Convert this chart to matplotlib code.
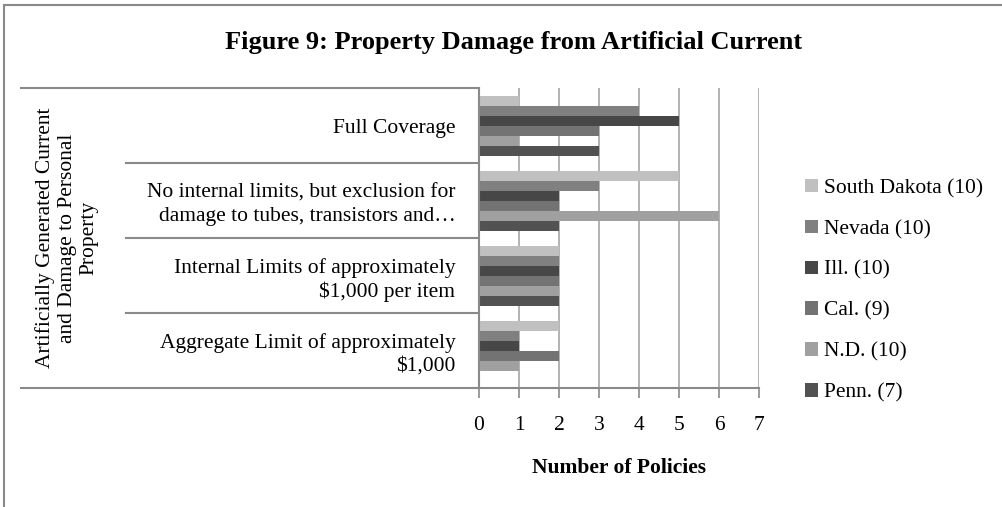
import matplotlib
matplotlib.use('Agg')
import matplotlib.pyplot as plt
from matplotlib.lines import Line2D
import numpy as np

# Categories listed bottom to top (as drawn on the y axis)
CATEGORIES = [
    'Aggregate Limit of approximately\n$1,000',
    'Internal Limits of approximately\n$1,000 per item',
    'No internal limits, but exclusion for\ndamage to tubes, transistors and\u2026',
    'Full Coverage',
]
GROUP_LABEL = 'Artificially Generated Current\nand Damage to Personal\nProperty'

SERIES = ['South Dakota (10)', 'Nevada (10)', 'Ill. (10)', 'Cal. (9)', 'N.D. (10)', 'Penn. (7)']
COLORS = ['#c0c0c0', '#808080', '#474747', '#737373', '#a0a0a0', '#525252']

south_dakota = [2, 2, 5, 1]
nevada = [1, 2, 3, 4]
illinois = [1, 2, 2, 5]
california = [2, 2, 2, 3]
north_dakota = [1, 2, 6, 1]
pennsylvania = [0, 2, 2, 3]
VALUES = [south_dakota, nevada, illinois, california, north_dakota, pennsylvania]

plt.rcParams['font.family'] = ['Liberation Serif', 'DejaVu Serif']
GRAY = '#8a8a8a'
FS = 15.5

fig = plt.figure(figsize=(10.03, 5.07), dpi=100)
ax = fig.add_axes([479 / 1003, 1 - 388 / 507, 280 / 1003, 300 / 507])

y = np.arange(len(CATEGORIES))
h = 0.8 / len(SERIES)
for i, (name, vals, col) in enumerate(zip(SERIES, VALUES, COLORS)):
    offs = 0.4 - h / 2 - i * h
    ax.barh(y + offs, vals, height=h, color=col, label=name, zorder=2)

ax.set_xlim(0, 7)
ax.set_ylim(-0.5, 3.5)
ax.set_xticks(range(8))
ax.set_yticks(y)
ax.set_yticklabels(CATEGORIES, ha='right', fontsize=FS, linespacing=1.25)
ax.grid(axis='x', color='#a6a6a6', linewidth=1.2, zorder=0)
ax.set_axisbelow(True)
ax.tick_params(axis='y', length=0, pad=17)
ax.tick_params(axis='x', length=7, width=1.2, color=GRAY, pad=13, labelsize=FS)
for s in ['top', 'right']:
    ax.spines[s].set_visible(False)
ax.spines['bottom'].set_color(GRAY)
ax.spines['bottom'].set_linewidth(1.5)
ax.spines['left'].set_color(GRAY)
ax.spines['left'].set_linewidth(1.5)

ax.set_xlabel('Number of Policies', fontsize=FS, fontweight='bold', labelpad=17)

# multi-level category separators
tr = ax.get_yaxis_transform()
for yy in [0.5, 1.5, 2.5]:
    ax.plot([(126 - 479) / 280, 0], [yy, yy], transform=tr, color=GRAY, lw=1.5, clip_on=False)
for yy in [-0.5, 3.5]:
    ax.plot([(21 - 479) / 280, 0], [yy, yy], transform=tr, color=GRAY, lw=1.5, clip_on=False)
ax.text((67 - 479) / 280, 1.5, GROUP_LABEL, transform=tr, rotation=90,
        ha='center', va='center', fontsize=FS, linespacing=1.2)

fig.suptitle('Figure 9: Property Damage from Artificial Current', x=514 / 1003,
             y=1 - 43 / 507, va='center', fontsize=19, fontweight='bold')

fig.legend(loc='upper left', bbox_to_anchor=(796 / 1003, 1 - 170 / 507), frameon=False,
           fontsize=FS, handlelength=0.6, handleheight=0.6, handletextpad=0.3,
           labelspacing=1.0, borderaxespad=0)

# outer chart frame (cropped on right and bottom)
fig.add_artist(Line2D([4 / 1003, 1], [1 - 5 / 507, 1 - 5 / 507], color=GRAY, lw=1.5))
fig.add_artist(Line2D([4 / 1003, 4 / 1003], [0, 1 - 5 / 507], color=GRAY, lw=1.5))

fig.savefig('out.png', dpi=100)
